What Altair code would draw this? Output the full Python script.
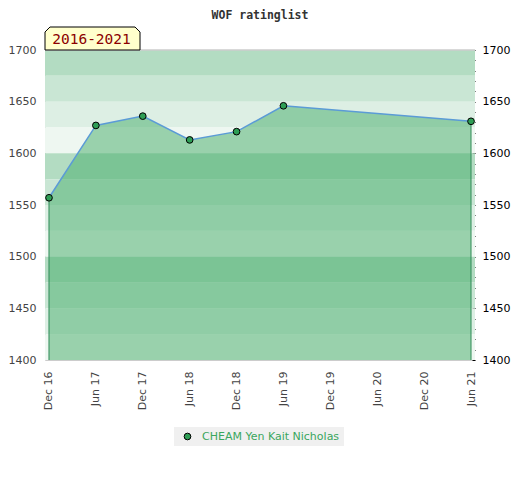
import altair as alt
import pandas as pd

# ---- data ----
periods = ["Dec 16", "Jun 17", "Dec 17", "Jun 18", "Dec 18",
           "Jun 19", "Dec 19", "Jun 20", "Dec 20", "Jun 21"]
rated_periods = ["Dec 16", "Jun 17", "Dec 17", "Jun 18", "Dec 18", "Jun 19", "Jun 21"]
ratings = [1557, 1627, 1636, 1613, 1621, 1646, 1631]
player = "CHEAM Yen Kait Nicholas"
range_label = "2016-2021"
title_text = "WOF ratinglist"
y_labels = [1400, 1450, 1500, 1550, 1600, 1650, 1700]
y_minor = list(range(1400, 1701, 10))
band_starts = [1675, 1650, 1625, 1600, 1575, 1550, 1525, 1500, 1475, 1450, 1425, 1400]
band_shades = ["#b3dcc2", "#c9e6d4", "#ddefe4", "#eef7f1"]

W, H = 430, 310

df = pd.DataFrame({"period": rated_periods, "rating": ratings, "player": player})
bands = pd.DataFrame({
    "lo": band_starts,
    "hi": [b + 25 for b in band_starts],
    "c": [band_shades[i % 4] for i in range(len(band_starts))],
})
lab = pd.DataFrame({"t": [range_label]})

x_scale = alt.Scale(type="point", domain=periods, padding=0.085)
y_scale = alt.Scale(domain=[1400, 1700], nice=False, zero=False)

x_axis = alt.Axis(labelAngle=-90, ticks=False, domainColor="#cccccc", labelColor="#444444",
                  labelFont="DejaVu Sans", labelFontSize=11, labelPadding=11, title=None,
                  grid=False, labelOverlap=False)
x_enc = alt.X("period:O", scale=x_scale, sort=periods, axis=x_axis)

left_axis = alt.Axis(orient="left", values=y_labels, ticks=False, domain=True,
                     domainColor="#cccccc", labelColor="#444444", labelFont="DejaVu Sans",
                     labelFontSize=11, labelPadding=9, grid=False, title=None, format="d")
right_axis = alt.Axis(orient="right", values=y_labels, ticks=False, domain=False,
                      labelColor="#000000", labelFont="DejaVu Sans", labelFontSize=11,
                      labelPadding=7, grid=False, title=None, format="d")
minor_axis = alt.Axis(orient="right", values=y_minor, labels=False, ticks=True, tickSize=3,
                      tickColor="#000000", tickWidth=1, offset=-3, domain=False, grid=False,
                      title=None)

band_layer = alt.Chart(bands).mark_rect().encode(
    x=alt.value(0), x2=alt.value(W),
    y=alt.Y("lo:Q", scale=y_scale, axis=left_axis), y2="hi:Q",
    color=alt.Color("c:N", scale=None),
)

top_rule = alt.Chart(lab).mark_rule(color="#cccccc", strokeWidth=1.5).encode(
    x=alt.value(0), x2=alt.value(W), y=alt.value(0)
)

area = alt.Chart(df).mark_area(color="#43ac68", opacity=0.5).encode(
    x=x_enc,
    y=alt.Y("rating:Q", scale=y_scale, axis=right_axis),
    y2=alt.datum(1400),
)

end_rules = alt.Chart(df).mark_rule(color="#2e8b57", strokeWidth=1).encode(
    x=x_enc,
    y=alt.Y("rating:Q", scale=y_scale, axis=None),
    y2=alt.datum(1400),
).transform_filter(
    alt.FieldOneOfPredicate(field="period", oneOf=[rated_periods[0], rated_periods[-1]])
)

line = alt.Chart(df).mark_line(color="#5b9bd6", strokeWidth=1.5).encode(
    x=x_enc,
    y=alt.Y("rating:Q", scale=y_scale, axis=minor_axis),
)

points = alt.Chart(df).mark_circle(size=45, stroke="black", strokeWidth=1, opacity=1).encode(
    x=x_enc,
    y=alt.Y("rating:Q", scale=y_scale, axis=None),
    fill=alt.Fill("player:N", scale=alt.Scale(range=["#2e9e55"]),
                  legend=alt.Legend(title=None, orient="none", legendX=129, legendY=377,
                                    fillColor="#f0f0f0", padding=4, symbolOffset=4,
                                    labelColor="#3aa65e", labelFont="DejaVu Sans",
                                    labelFontSize=11, symbolType="circle", symbolSize=45,
                                    symbolStrokeColor="black", symbolStrokeWidth=1,
                                    labelOffset=9, direction="horizontal")),
)

box_path = "M-1,0.242L-1,-0.137L-0.895,-0.242L0.895,-0.242L1,-0.137L1,0.242Z"
box = alt.Chart(lab).mark_point(shape=box_path, size=95 * 95, filled=True, color="#ffffcc",
                                stroke="black", strokeWidth=1, opacity=1).encode(
    x=alt.value(47.5), y=alt.value(-11.5)
)
box_text = alt.Chart(lab).mark_text(font="DejaVu Sans Mono", fontSize=14.5, color="#8b0000",
                                    baseline="middle", align="center").encode(
    x=alt.value(46.5), y=alt.value(-10.5), text="t:N"
)

chart = alt.layer(
    band_layer, area, end_rules, line, points, top_rule, box, box_text
).resolve_axis(y="independent").properties(
    width=W, height=H,
    title=alt.Title(title_text, font="DejaVu Sans Mono", fontSize=11.5, fontWeight="bold",
                    color="#333333", anchor="middle", offset=4),
    autosize=alt.AutoSizeParams(type="none"),
    padding={"left": 37, "top": 42, "right": 37, "bottom": 100},
    background="white",
).configure_view(stroke=None)

chart.save("out.html", embed_options={"renderer": "svg", "actions": False})
